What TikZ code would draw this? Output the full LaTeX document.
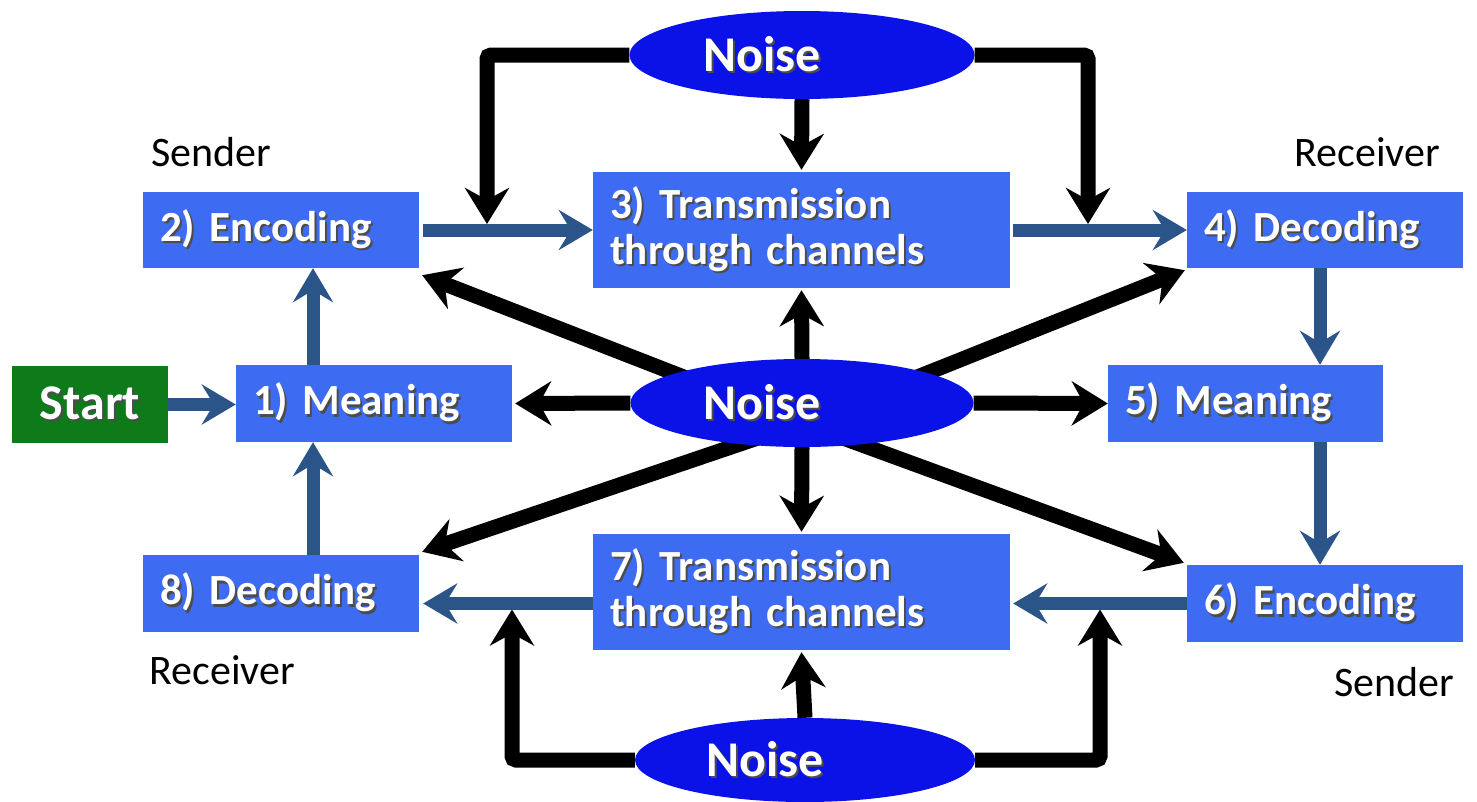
\documentclass[tikz,border=0pt]{standalone}
\usepackage{fontspec}
\setmainfont{Carlito}
\usetikzlibrary{arrows.meta,shapes.geometric}
\pgfdeclarelayer{bg}
\pgfdeclarelayer{paper}
\pgfsetlayers{paper,bg,main}
\definecolor{boxblue}{HTML}{3D6CF2}
\definecolor{arrblue}{HTML}{2B5589}
\definecolor{ellblue}{HTML}{0A12E8}
\definecolor{startgreen}{HTML}{0E7A1A}
\newcommand{\shtxt}[1]{\leavevmode{\color{black!70}\rlap{\kern2pt\raisebox{-2.5pt}{#1}}}{\color{white}#1}}
\begin{document}
\begin{tikzpicture}[x=1pt,y=-1pt,
  box/.style={rectangle, fill=boxblue, inner ysep=0pt, inner xsep=17pt, align=left,
    font=\bfseries\fontsize{43}{46}\selectfont},
  startbox/.style={rectangle, fill=startgreen, inner sep=0pt, minimum width=156pt, minimum height=77pt,
    font=\bfseries\fontsize{50}{52}\selectfont},
  noise/.style={ellipse, fill=ellblue, inner sep=0pt, minimum width=343pt, minimum height=88pt,
    font=\bfseries\fontsize{50}{52}\selectfont},
  role/.style={font=\fontsize{42}{44}\selectfont, text=black},
  barr/.style={draw=arrblue, line width=13pt, -{Stealth[length=34pt,width=40pt,inset=12pt]}},
  karr/.style={draw=black, line width=15pt, -{Stealth[length=36pt,width=44pt,inset=12pt]}, rounded corners=4pt}
]
\useasboundingbox (0,0) rectangle (1477,801);
\begin{pgfonlayer}{paper}
\fill[white] (0,0) rectangle (1477,801);
\end{pgfonlayer}

% boxes
\node[startbox] (start) at (90,404.5) {\shtxt{Start}};
\node[box, text width=242pt, minimum height=77pt] (m1) at (374,403.5) {\shtxt{1) Meaning}};
\node[box, text width=242pt, minimum height=76pt] (e2) at (281,230) {\shtxt{2) Encoding}};
\node[box, text width=383pt, minimum height=116pt] (t3) at (801.5,230) {\shtxt{3) Transmission}\\\shtxt{through channels}};
\node[box, text width=242pt, minimum height=76pt] (d4) at (1325,230) {\shtxt{4) Decoding}};
\node[box, text width=241pt, minimum height=77pt] (m5) at (1245.5,403.5) {\shtxt{5) Meaning}};
\node[box, text width=242pt, minimum height=77pt] (e6) at (1325,603.5) {\shtxt{6) Encoding}};
\node[box, text width=383pt, minimum height=116pt] (t7) at (801.5,592) {\shtxt{7) Transmission}\\\shtxt{through channels}};
\node[box, text width=242pt, minimum height=77pt] (d8) at (281,593.5) {\shtxt{8) Decoding}};

% noise ellipses
\node[noise, minimum width=345pt] (nT) at (802,55) {\shtxt{Noise}\kern80pt};
\node[noise] (nM) at (802,403) {\shtxt{Noise}\kern80pt};
\node[noise, minimum width=340pt, minimum height=84pt] (nB) at (805,760) {\shtxt{Noise}\kern80pt};

% role labels
\node[role] (s1) at (211,152) {Sender};
\node[role] (r1) at (1367,152) {Receiver};
\node[role] (r2) at (222,670) {Receiver};
\node[role] (s2) at (1394,682) {Sender};

% junction coordinates
\coordinate (j1) at (487,230);
\coordinate (j2) at (1088,230);
\coordinate (j3) at (512,603.5);
\coordinate (j4) at (1100,603.5);
\coordinate (hub) at (802,423);

% blue arrows
\draw[barr] (start.east) -- (start.east -| m1.west);
\draw[barr] ([xshift=-61pt]m1.north) -- ([xshift=32pt]e2.south);
\draw[barr] ([xshift=4pt]e2.east) -- (e2.east -| t3.west);
\draw[barr] ([xshift=3pt]t3.east |- d4.west) -- (d4.west);
\draw[barr] ([xshift=-5pt]d4.south) -- ([xshift=74.5pt]m5.north);
\draw[barr] ([xshift=74.5pt]m5.south) -- ([xshift=-5pt]e6.north);
\draw[barr] (e6.west) -- ([xshift=3pt]e6.west -| t7.east);
\draw[barr] (e6.west -| t7.west) -- ([xshift=4pt]e6.west -| d8.east);
\draw[barr] ([xshift=32pt]d8.north) -- ([xshift=-61pt]m1.south);

% black arrows
\draw[karr] (nT.west) -| ([yshift=6pt]j1);
\draw[karr] (nT.east) -| ([yshift=6pt]j2);
\draw[karr] (nT.south) -- ([yshift=2pt]t3.north);
\draw[karr] (nM.north) -- ([yshift=-2pt]t3.south);
\draw[karr] (nM.west) -- ([xshift=3pt]m1.east);
\draw[karr] (nM.east) -- (m5.west);
\draw[karr] (nM.south) -- ([yshift=2pt]t7.north);
\draw[karr] (nB.north) -- ([yshift=-2pt]t7.south);
\draw[karr] (nB.west) -| ([yshift=-6pt]j3);
\draw[karr] (nB.east) -| ([yshift=-6pt]j4);
\begin{pgfonlayer}{bg}
\draw[karr] (hub) -- ([shift={(3pt,-7pt)}]e2.south east);
\draw[karr] (hub) -- ([shift={(-2pt,-2pt)}]d4.south west);
\draw[karr] (hub) -- ([shift={(3pt,3pt)}]d8.north east);
\draw[karr] (hub) -- ([shift={(-3pt,2pt)}]e6.north west);
\end{pgfonlayer}
\end{tikzpicture}
\end{document}
